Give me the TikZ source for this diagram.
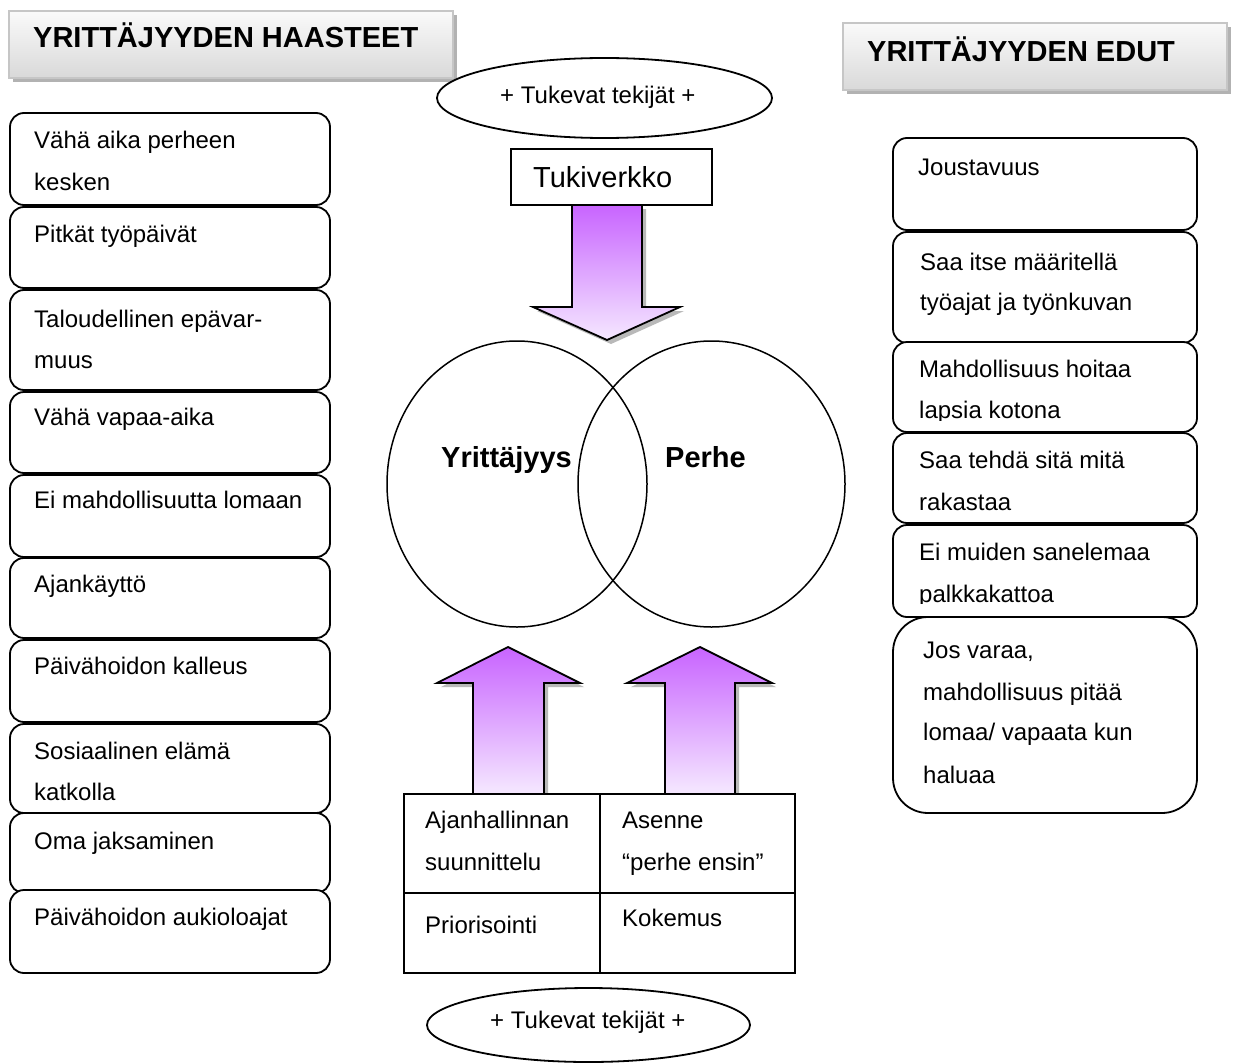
\documentclass[tikz,border=0pt]{standalone}
\usepackage{fontspec}
\setmainfont{Liberation Sans}
\usetikzlibrary{shapes.geometric}
\definecolor{violetA}{RGB}{200,100,255}
\definecolor{violetB}{RGB}{245,232,255}
\tikzset{
  rbox/.style={draw, line width=1.8pt, fill=white, rectangle, rounded corners=14pt, inner sep=0pt},
  txt/.style={font=\fontsize{24}{28}\selectfont, anchor=base west, inner sep=0pt},
  bigtxt/.style={font=\fontsize{29}{34}\selectfont, anchor=base west, inner sep=0pt},
  boldtxt/.style={font=\fontsize{29}{34}\selectfont\bfseries, anchor=base west, inner sep=0pt},
  titlebox/.style={draw=gray!45, line width=1.5pt, rectangle, inner sep=0pt, top color=gray!4, bottom color=gray!30},
  titleshadow/.style={fill=gray!60, draw=none, rectangle, inner sep=0pt},
  oval/.style={draw, ellipse, line width=1.8pt, fill=white, inner sep=0pt},
  ring/.style={draw, ellipse, line width=1.5pt, inner sep=0pt},
  cell/.style={draw, rectangle, line width=1.8pt, inner sep=0pt, fill=white},
  arrowfill/.style={top color=violetA, bottom color=violetB, draw=black, line width=1.8pt, line join=miter},
  arrowshadow/.style={fill=gray!55, draw=none}
}
\begin{document}
\begin{tikzpicture}[x=1pt,y=-1pt]
\useasboundingbox (0,0) rectangle (1233,1062);
\fill[white] (0,0) rectangle (1233,1062);

% ---------- titles ----------
\node[titleshadow, minimum width=444pt, minimum height=67pt] (tls) at (235,48.5) {};
\node[titlebox, minimum width=444pt, minimum height=67pt] (tl) at (231,44.5) {};
\node[boldtxt] (tlt) at (33,48) {YRITTÄJYYDEN HAASTEET};

\node[titleshadow, minimum width=384pt, minimum height=67pt] (trs) at (1039,60.5) {};
\node[titlebox, minimum width=384pt, minimum height=67pt] (tr) at (1035,56.5) {};
\node[boldtxt] (trt) at (867,62) {YRITTÄJYYDEN EDUT};

% ---------- left column ----------
\node[rbox, minimum width=320pt, minimum height=92pt] (l1) at (170,159) {};
\node[txt] (l1a) at (34,148) {Vähä aika perheen};
\node[txt] (l1b) at (34,190) {kesken};
\node[rbox, minimum width=320pt, minimum height=81pt] (l2) at (170,247.5) {};
\node[txt] (l2a) at (34,242) {Pitkät työpäivät};
\node[rbox, minimum width=320pt, minimum height=100pt] (l3) at (170,340) {};
\node[txt] (l3a) at (34,327) {Taloudellinen epävar-};
\node[txt] (l3b) at (34,368) {muus};
\node[rbox, minimum width=320pt, minimum height=81pt] (l4) at (170,432.5) {};
\node[txt] (l4a) at (34,425) {Vähä vapaa-aika};
\node[rbox, minimum width=320pt, minimum height=82pt] (l5) at (170,516) {};
\node[txt] (l5a) at (34,508) {Ei mahdollisuutta lomaan};
\node[rbox, minimum width=320pt, minimum height=80pt] (l6) at (170,598) {};
\node[txt] (l6a) at (34,592) {Ajankäyttö};
\node[rbox, minimum width=320pt, minimum height=82pt] (l7) at (170,681) {};
\node[txt] (l7a) at (34,674) {Päivähoidon kalleus};
\node[rbox, minimum width=320pt, minimum height=89pt] (l8) at (170,768.5) {};
\node[txt] (l8a) at (34,759) {Sosiaalinen elämä};
\node[txt] (l8b) at (34,800) {katkolla};
\node[rbox, minimum width=320pt, minimum height=80pt] (l9) at (170,853) {};
\node[txt] (l9a) at (34,849) {Oma jaksaminen};
\node[rbox, minimum width=320pt, minimum height=83pt] (l10) at (170,931.5) {};
\node[txt] (l10a) at (34,925) {Päivähoidon aukioloajat};

% ---------- right column ----------
\node[rbox, minimum width=304pt, minimum height=92pt] (r1) at (1045,184) {};
\node[txt] (r1a) at (918,175) {Joustavuus};
\node[rbox, minimum width=304pt, minimum height=111pt] (r2) at (1045,287.5) {};
\node[txt] (r2a) at (920,270) {Saa itse määritellä};
\node[txt] (r2b) at (920,310) {työajat ja työnkuvan};
\node[rbox, minimum width=304pt, minimum height=90pt] (r3) at (1045,387) {};
\node[txt] (r3a) at (919,377) {Mahdollisuus hoitaa};
\begin{scope}
\clip (893,360) rectangle (1197,420);
\node[txt] (r3b) at (919,418) {lapsia kotona};
\end{scope}
\node[rbox, minimum width=304pt, minimum height=90pt] (r4) at (1045,478) {};
\node[txt] (r4a) at (919,468) {Saa tehdä sitä mitä};
\node[txt] (r4b) at (919,510) {rakastaa};
\node[rbox, minimum width=304pt, minimum height=92pt] (r5) at (1045,571) {};
\node[txt] (r5a) at (919,560) {Ei muiden sanelemaa};
\begin{scope}
\clip (893,570) rectangle (1197,603);
\node[txt] (r5b) at (919,602) {palkkakattoa};
\end{scope}
\node[rbox, rounded corners=35pt, minimum width=304pt, minimum height=196pt] (r6) at (1045,715) {};
\node[txt] (r6a) at (923,658) {Jos varaa,};
\node[txt] (r6b) at (923,700) {mahdollisuus pitää};
\node[txt] (r6c) at (923,740) {lomaa/ vapaata kun};
\node[txt] (r6d) at (923,783) {haluaa};

% ---------- centre ----------
\node[oval, minimum width=335pt, minimum height=80pt] (eTop) at (604.5,98) {};
\node[txt] (eTopt) at (500,103) {+ Tukevat tekijät +};

\node[draw, rectangle, line width=1.8pt, inner sep=0pt, minimum width=201pt, minimum height=56pt] (tuki) at (611.5,177) {};
\node[bigtxt] (tukit) at (533,187) {Tukiverkko};

% down arrow
\fill[arrowshadow, shift={(4,4)}] (572,205) -- (642,205) -- (642,307) -- (680,307) -- (607,340) -- (533,307) -- (572,307) -- cycle;
\path[arrowfill] (572,205) -- (642,205) -- (642,307) -- (680,307) -- (607,340) -- (533,307) -- (572,307) -- cycle;

% Venn circles
\node[ring, minimum width=260pt, minimum height=286pt] (cY) at (517,484) {};
\node[ring, minimum width=267pt, minimum height=286pt] (cP) at (711.5,484) {};
\node[boldtxt] (cYt) at (441,467) {Yrittäjyys};
\node[boldtxt] (cPt) at (665,467) {Perhe};

% up arrows
\fill[arrowshadow, shift={(4,4)}] (473,790) -- (473,683) -- (437,683) -- (508,647) -- (580,683) -- (544,683) -- (544,790) -- cycle;
\path[arrowfill] (473,794) -- (473,683) -- (437,683) -- (508,647) -- (580,683) -- (544,683) -- (544,794) -- cycle;
\fill[arrowshadow, shift={(4,4)}] (665,790) -- (665,683) -- (627,683) -- (700,647) -- (772,683) -- (735,683) -- (735,790) -- cycle;
\path[arrowfill] (665,794) -- (665,683) -- (627,683) -- (700,647) -- (772,683) -- (735,683) -- (735,794) -- cycle;

% table
\node[cell, minimum width=196pt, minimum height=99pt] (c11) at (502,843.5) {};
\node[cell, minimum width=195pt, minimum height=99pt] (c12) at (697.5,843.5) {};
\node[cell, minimum width=196pt, minimum height=80pt] (c21) at (502,933) {};
\node[cell, minimum width=195pt, minimum height=80pt] (c22) at (697.5,933) {};
\node[txt] (c11a) at (425,828) {Ajanhallinnan};
\node[txt] (c11b) at (425,870) {suunnittelu};
\node[txt] (c12a) at (622,828) {Asenne};
\node[txt] (c12b) at (622,870) {“perhe ensin”};
\node[txt] (c21a) at (425,933) {Priorisointi};
\node[txt] (c22a) at (622,926) {Kokemus};

\node[oval, minimum width=323pt, minimum height=74pt] (eBot) at (588.5,1025) {};
\node[txt] (eBott) at (490,1028) {+ Tukevat tekijät +};
\end{tikzpicture}
\end{document}
